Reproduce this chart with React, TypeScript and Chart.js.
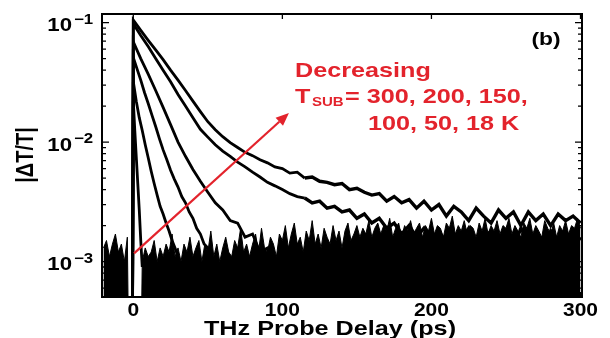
import React, { useEffect, useRef } from 'react';
import { Chart, registerables } from 'chart.js';

Chart.register(...registerables);

// Axis ranges (ps and |ΔT/T|)
const delayRange = [-21, 301];
const signalRange = [5.05e-4, 0.118];
const delayTicks = [0, 100, 200, 300];
const signalDecades = [-1, -2, -3];

// Slow traces share a 5 ps grid
const delaySlow = [
  -0.5, 0, 5, 10, 15, 20, 25, 30, 35, 40, 45, 50, 55, 60, 65, 70, 75, 80, 85, 90, 95,
  100, 105, 110, 115, 120, 125, 130, 135, 140, 145, 150, 155, 160, 165, 170, 175, 180, 185, 190, 195,
  200, 205, 210, 215, 220, 225, 230, 235, 240, 245, 250, 255, 260, 265, 270, 275, 280, 285, 290, 295, 300,
];

const trace18K = [
  0.0004, 0.105, 0.086, 0.071, 0.059, 0.049, 0.040, 0.033, 0.027, 0.022, 0.018, 0.0148, 0.0127, 0.0111, 0.0099, 0.0090, 0.0082, 0.0077, 0.0071, 0.0067, 0.0062,
  0.0060, 0.0055, 0.0056, 0.0050, 0.0051, 0.0047, 0.0046, 0.0044, 0.0045, 0.0040, 0.0041, 0.0038, 0.0036, 0.0037, 0.0032, 0.0035, 0.0031, 0.0033, 0.0028, 0.0032,
  0.0027, 0.0030, 0.0024, 0.0029, 0.0026, 0.0022, 0.0028, 0.0024, 0.0021, 0.0027, 0.0023, 0.0026, 0.0020, 0.0026, 0.0022, 0.0025, 0.0020, 0.0025, 0.0022, 0.0024, 0.0021,
];

const trace50K = [
  0.0004, 0.098, 0.078, 0.063, 0.050, 0.040, 0.032, 0.025, 0.020, 0.016, 0.0128, 0.0110, 0.0095, 0.0084, 0.0076, 0.0068, 0.0062, 0.0056, 0.0051, 0.0046, 0.0043,
  0.0040, 0.0037, 0.0035, 0.0034, 0.0031, 0.0032, 0.0028, 0.0029, 0.0026, 0.0027, 0.0023, 0.0025, 0.0021, 0.0023, 0.0019, 0.0021, 0.0017, 0.0020, 0.0016, 0.0019,
  0.0015, 0.0018, 0.0014, 0.0017, 0.0015, 0.0019, 0.0013, 0.0016, 0.0018, 0.0014, 0.0017, 0.0013, 0.0019, 0.0015, 0.0016, 0.0012, 0.0018, 0.0015, 0.0017, 0.0013, 0.0016,
];

const delay100K = [-0.5, 0, 5, 10, 15, 20, 25, 30, 35, 40, 45, 50, 55, 60, 65, 70, 75, 80, 85, 90, 95];
const trace100K = [
  0.0004, 0.069, 0.050, 0.037, 0.027, 0.0195, 0.014, 0.0100, 0.0076, 0.0059, 0.0047, 0.0038, 0.0031, 0.0027, 0.0022, 0.0021, 0.0016, 0.0017, 0.0012, 0.0013, 0.0009,
];

const delay150K = [-0.5, 0, 2.5, 5, 7.5, 10, 12.5, 15, 17.5, 20, 22.5, 25, 27.5, 30, 32.5, 35, 37.5, 40, 42.5, 45, 47.5, 50, 52.5];
const trace150K = [
  0.0004, 0.051, 0.041, 0.033, 0.026, 0.021, 0.0168, 0.0135, 0.0107, 0.0086, 0.0071, 0.0058, 0.0049, 0.0042, 0.0035, 0.0031, 0.0026, 0.0023, 0.0019, 0.0017, 0.0014, 0.0013, 0.0010,
];

const delay200K = [-0.5, 0, 2, 4, 6, 8, 10, 12, 14, 16, 18, 20, 22, 24, 26, 28, 30, 32];
const trace200K = [
  0.0004, 0.032, 0.022, 0.016, 0.0125, 0.0095, 0.0074, 0.0057, 0.0045, 0.0036, 0.0029, 0.0025, 0.0021, 0.0018, 0.0015, 0.0013, 0.0011, 0.0009,
];

const delay300K = [-0.5, 0, 1, 2, 3, 4, 5, 6];
const trace300K = [0.0004, 0.022, 0.0125, 0.0075, 0.0045, 0.0027, 0.0015, 0.0009];

// Noise floor shared by all temperatures (2 ps grid)
const floorDelay = [
  -20, -18, -16, -14, -12, -10, -8, -6, -4, -2,
  0, 2, 4, 6, 8, 10, 12, 14, 16, 18,
  20, 22, 24, 26, 28, 30, 32, 34, 36, 38,
  40, 42, 44, 46, 48, 50, 52, 54, 56, 58,
  60, 62, 64, 66, 68, 70, 72, 74, 76, 78,
  80, 82, 84, 86, 88, 90, 92, 94, 96, 98,
  100, 102, 104, 106, 108, 110, 112, 114, 116, 118,
  120, 122, 124, 126, 128, 130, 132, 134, 136, 138,
  140, 142, 144, 146, 148, 150, 152, 154, 156, 158,
  160, 162, 164, 166, 168, 170, 172, 174, 176, 178,
  180, 182, 184, 186, 188, 190, 192, 194, 196, 198,
  200, 202, 204, 206, 208, 210, 212, 214, 216, 218,
  220, 222, 224, 226, 228, 230, 232, 234, 236, 238,
  240, 242, 244, 246, 248, 250, 252, 254, 256, 258,
  260, 262, 264, 266, 268, 270, 272, 274, 276, 278,
  280, 282, 284, 286, 288, 290, 292, 294, 296, 298,
  300,
];
const floorLevel = [
  0.0013, 0.0015, 0.0011, 0.0014, 0.0017, 0.0012, 0.0014, 0.0010, 0.0016, 0.00001,
  0.00001, 0.00001, 0.00001, 0.0010, 0.0013, 0.0011, 0.0012, 0.0015, 0.0010, 0.0013,
  0.0011, 0.0014, 0.0012, 0.0017, 0.0011, 0.0013, 0.0010, 0.0014, 0.0012, 0.0016,
  0.0011, 0.0013, 0.0015, 0.0010, 0.0014, 0.0012, 0.0018, 0.0011, 0.0014, 0.0010,
  0.0013, 0.0016, 0.0012, 0.0011, 0.0015, 0.0013, 0.0019, 0.0012, 0.0014, 0.0011,
  0.0014, 0.0017, 0.0012, 0.0019, 0.0013, 0.0012, 0.0016, 0.0014, 0.0011, 0.0017,
  0.0015, 0.0020, 0.0013, 0.0017, 0.0021, 0.0014, 0.0016, 0.0012, 0.0018, 0.0015,
  0.0022, 0.0014, 0.0017, 0.0013, 0.0019, 0.0016, 0.0014, 0.0020, 0.0015, 0.0018,
  0.0013, 0.0018, 0.0021, 0.0015, 0.0017, 0.0020, 0.0016, 0.0019, 0.0017, 0.0022,
  0.0016, 0.0019, 0.0021, 0.0017, 0.0020, 0.0018, 0.0023, 0.0016, 0.0019, 0.0021,
  0.0016, 0.0020, 0.0018, 0.0022, 0.0017, 0.0019, 0.0021, 0.0016, 0.0020, 0.0018,
  0.0023, 0.0017, 0.0020, 0.0019, 0.0016, 0.0021, 0.0019, 0.0024, 0.0017, 0.0020,
  0.0018, 0.0022, 0.0017, 0.0020, 0.0019, 0.0016, 0.0021, 0.0018, 0.0023, 0.0017,
  0.0020, 0.0018, 0.0022, 0.0017, 0.0020, 0.0019, 0.0023, 0.0017, 0.0020, 0.0018,
  0.0016, 0.0021, 0.0019, 0.0023, 0.0017, 0.0020, 0.0018, 0.0016, 0.0022, 0.0019,
  0.0017, 0.0021, 0.0016, 0.0020, 0.0018, 0.0022, 0.0017, 0.0020, 0.0019, 0.0023,
  0.0019,
];

// Red arrow (delay, |ΔT/T|) and its caption
const arrowFrom = [0.5, 0.00117];
const arrowTo = [104.4, 0.0175];
const captionHead = 'Decreasing';
const captionTemps = ['= 300, 200, 150,', '100, 50, 18 K'];
const panelTag = '(b)';
const xTitle = 'THz Probe Delay (ps)';
const yTitle = '|ΔT/T|';

const RED = '#e3232c';
const FONT = '"Liberation Sans", Arial, sans-serif';

function wideText(
  ctx: CanvasRenderingContext2D,
  text: string,
  x: number,
  y: number,
  size: number,
  align: CanvasTextAlign,
  color: string,
  sx = 1.2,
) {
  ctx.save();
  ctx.font = `bold ${size}px ${FONT}`;
  ctx.fillStyle = color;
  ctx.textAlign = align;
  ctx.textBaseline = 'alphabetic';
  ctx.translate(x, y);
  ctx.scale(sx, 1);
  ctx.fillText(text, 0, 0);
  ctx.restore();
}

const overlay = {
  id: 'overlay',
  afterDatasetsDraw(chart: any) {
    const { ctx, chartArea: a, scales } = chart;
    const xs = scales.x;
    const ys = scales.y;
    ctx.save();

    // red arrow
    const x0 = xs.getPixelForValue(arrowFrom[0]);
    const y0 = ys.getPixelForValue(arrowFrom[1]);
    const x1 = xs.getPixelForValue(arrowTo[0]);
    const y1 = ys.getPixelForValue(arrowTo[1]);
    const ang = Math.atan2(y1 - y0, x1 - x0);
    const head = 13;
    const half = 5.5;
    const bx = x1 - head * Math.cos(ang);
    const by = y1 - head * Math.sin(ang);
    ctx.strokeStyle = RED;
    ctx.lineWidth = 2.2;
    ctx.beginPath();
    ctx.moveTo(x0, y0);
    ctx.lineTo(bx, by);
    ctx.stroke();
    ctx.fillStyle = RED;
    ctx.beginPath();
    ctx.moveTo(x1, y1);
    ctx.lineTo(bx + half * Math.sin(ang), by - half * Math.cos(ang));
    ctx.lineTo(bx - half * Math.sin(ang), by + half * Math.cos(ang));
    ctx.closePath();
    ctx.fill();

    // frame
    ctx.strokeStyle = '#000';
    ctx.lineWidth = 2;
    ctx.strokeRect(a.left, a.top, a.right - a.left, a.bottom - a.top);

    // log ticks on left and right
    ctx.lineWidth = 1.3;
    for (let d = -4; d <= -1; d++) {
      for (let m = 1; m <= 9; m++) {
        const v = m * Math.pow(10, d);
        if (v < signalRange[0] || v > signalRange[1]) continue;
        const py = ys.getPixelForValue(v);
        const len = m === 1 ? 7 : 4;
        ctx.beginPath();
        ctx.moveTo(a.left, py);
        ctx.lineTo(a.left + len, py);
        ctx.moveTo(a.right, py);
        ctx.lineTo(a.right - len, py);
        ctx.stroke();
      }
    }
    // delay ticks on top and bottom
    for (const t of delayTicks) {
      const px = xs.getPixelForValue(t);
      ctx.beginPath();
      ctx.moveTo(px, a.top);
      ctx.lineTo(px, a.top + 5);
      ctx.moveTo(px, a.bottom);
      ctx.lineTo(px, a.bottom - 5);
      ctx.stroke();
    }

    // tick labels
    for (const t of delayTicks) {
      wideText(ctx, String(t), xs.getPixelForValue(t), a.bottom + 19, 17.5, 'center', '#000');
    }
    for (const e of signalDecades) {
      const py = ys.getPixelForValue(Math.pow(10, e));
      wideText(ctx, '10', 72, py + 8.5, 18.5, 'right', '#000');
      wideText(ctx, '\u2212' + String(-e), 74, py + 1, 14, 'left', '#000');
    }

    // axis titles
    wideText(ctx, xTitle, 330, 335, 21, 'center', '#000');
    ctx.save();
    ctx.translate(33, 155);
    ctx.rotate(-Math.PI / 2);
    ctx.scale(1, 1.15);
    ctx.font = `bold 20px ${FONT}`;
    ctx.fillStyle = '#000';
    ctx.textAlign = 'center';
    ctx.textBaseline = 'alphabetic';
    ctx.fillText(yTitle, 0, 0);
    ctx.restore();

    // panel tag and caption
    wideText(ctx, panelTag, 546, 45, 19, 'center', '#000');
    wideText(ctx, captionHead, 295, 77, 21, 'left', RED);
    wideText(ctx, 'T', 295, 103, 21, 'left', RED);
    wideText(ctx, 'SUB', 312, 106, 12.5, 'left', RED);
    wideText(ctx, captionTemps[0], 345, 103, 21, 'left', RED);
    wideText(ctx, captionTemps[1], 368, 130, 21, 'left', RED);

    ctx.restore();
  },
};

function points(xs: number[], ys: number[]) {
  return xs.map((x, i) => ({ x, y: ys[i] }));
}

function traceSet(xs: number[], ys: number[]) {
  return {
    data: points(xs, ys),
    borderColor: '#000',
    borderWidth: 2.8,
    pointRadius: 0,
    fill: false,
    tension: 0,
    clip: 0,
    // the noisy tails read as a thicker band
    segment: {
      borderWidth: (c: any) => (c.p0.parsed.x > 110 ? 3.4 : 2.8),
    },
  };
}

export default function App() {
  const canvasRef = useRef<HTMLCanvasElement>(null);

  useEffect(() => {
    const chart = new Chart(canvasRef.current as HTMLCanvasElement, {
      type: 'line',
      data: {
        datasets: [
          {
            data: points(floorDelay, floorLevel),
            borderColor: '#000',
            backgroundColor: '#000',
            borderWidth: 1,
            pointRadius: 0,
            fill: 'start',
            tension: 0,
            clip: 0,
          } as any,
          traceSet(delay300K, trace300K),
          traceSet(delay200K, trace200K),
          traceSet(delay150K, trace150K),
          traceSet(delay100K, trace100K),
          traceSet(delaySlow, trace50K),
          traceSet(delaySlow, trace18K),
        ],
      },
      options: {
        animation: false,
        responsive: true,
        maintainAspectRatio: false,
        events: [],
        layout: { padding: { left: 102, top: 14, right: 28, bottom: 41 } },
        plugins: { legend: { display: false }, tooltip: { enabled: false } },
        scales: {
          x: { type: 'linear', display: false, min: delayRange[0], max: delayRange[1] },
          y: { type: 'logarithmic', display: false, min: signalRange[0], max: signalRange[1] },
        },
      },
      plugins: [overlay],
    });
    return () => chart.destroy();
  }, []);

  return (
    <div style={{ position: 'fixed', left: 0, top: 0, width: 610, height: 338, background: '#fff' }}>
      <canvas ref={canvasRef} />
    </div>
  );
}
